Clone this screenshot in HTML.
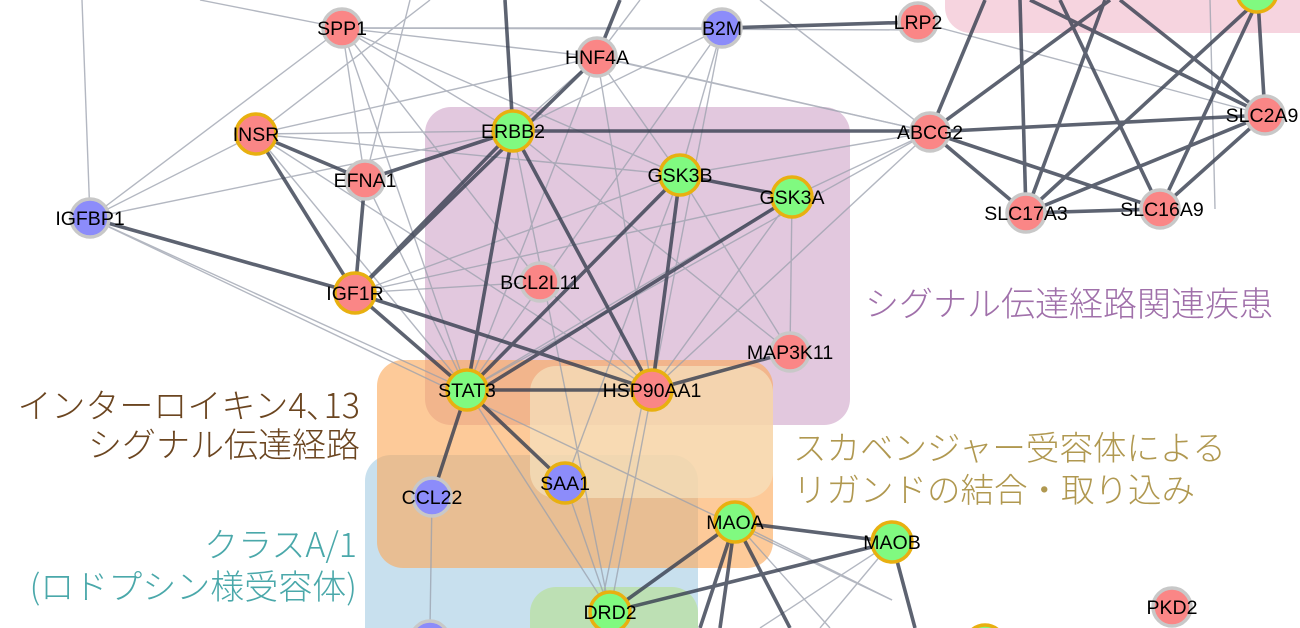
<!DOCTYPE html>
<html><head><meta charset="utf-8"><style>
html,body{margin:0;padding:0;background:#fff;width:1300px;height:628px;overflow:hidden;}
#c{position:relative;width:1300px;height:628px;overflow:hidden;font-family:"Liberation Sans","Noto Sans CJK JP",sans-serif;}
.r{position:absolute;border-radius:26px;}
.lab{position:absolute;font-family:"Noto Sans CJK JP","Liberation Sans",sans-serif;font-weight:300;white-space:nowrap;line-height:40px;}
</style></head><body><div id="c">
<div class="r" style="left:945px;top:-40px;width:400px;height:73px;background:#f6d4df;"></div>
<div class="r" style="left:425px;top:107px;width:425px;height:318px;background:#e2c8de;"></div>
<div class="r" style="left:365px;top:455px;width:333px;height:173px;border-bottom-left-radius:0;border-bottom-right-radius:0;background:#c8e0ee;"></div>
<div class="r" style="left:377px;top:360px;width:396px;height:208px;background:rgba(252,170,90,0.62);"></div>
<div class="r" style="left:530px;top:366px;width:243px;height:132px;background:rgba(245,225,190,0.7);"></div>
<div class="r" style="left:530px;top:587px;width:168px;height:41px;border-bottom-left-radius:0;border-bottom-right-radius:0;background:#bde0b4;"></div>
<svg width="1300" height="628" viewBox="0 0 1300 628" style="position:absolute;left:0;top:0;overflow:hidden">
<g stroke="#9aa0ad" stroke-width="1.4" opacity="0.75">
<line x1="90" y1="218" x2="82" y2="0"/><line x1="90" y1="218" x2="256" y2="134"/><line x1="90" y1="218" x2="342" y2="28"/><line x1="90" y1="218" x2="513" y2="131"/><line x1="90" y1="218" x2="467" y2="390"/>
<line x1="342" y1="28" x2="200" y2="0"/><line x1="342" y1="28" x2="597" y2="57"/><line x1="342" y1="28" x2="680" y2="175"/><line x1="342" y1="28" x2="930" y2="30"/><line x1="342" y1="28" x2="513" y2="131"/><line x1="342" y1="28" x2="467" y2="390"/><line x1="342" y1="28" x2="365" y2="180"/><line x1="342" y1="28" x2="540" y2="282"/><line x1="342" y1="28" x2="722" y2="28"/>
<line x1="256" y1="134" x2="597" y2="57"/><line x1="256" y1="134" x2="513" y2="131"/><line x1="256" y1="134" x2="680" y2="175"/><line x1="256" y1="134" x2="467" y2="390"/><line x1="256" y1="134" x2="652" y2="390"/><line x1="256" y1="134" x2="430" y2="0"/>
<line x1="365" y1="180" x2="410" y2="0"/><line x1="365" y1="180" x2="467" y2="390"/>
<line x1="597" y1="57" x2="680" y2="175"/><line x1="597" y1="57" x2="467" y2="390"/><line x1="597" y1="57" x2="652" y2="390"/><line x1="597" y1="57" x2="513" y2="131"/><line x1="597" y1="57" x2="930" y2="132"/><line x1="597" y1="57" x2="640" y2="0"/>
<line x1="722" y1="28" x2="467" y2="390"/><line x1="722" y1="28" x2="680" y2="175"/><line x1="722" y1="28" x2="652" y2="390"/><line x1="722" y1="28" x2="513" y2="131"/>
<line x1="760" y1="0" x2="930" y2="132"/><line x1="918" y1="22" x2="1265" y2="115"/>
<line x1="930" y1="132" x2="680" y2="175"/><line x1="930" y1="132" x2="792" y2="197"/><line x1="930" y1="132" x2="652" y2="390"/><line x1="930" y1="132" x2="467" y2="390"/><line x1="930" y1="132" x2="600" y2="57"/>
<line x1="792" y1="197" x2="790" y2="352"/><line x1="792" y1="197" x2="467" y2="390"/><line x1="792" y1="197" x2="355" y2="293"/><line x1="792" y1="197" x2="652" y2="390"/>
<line x1="680" y1="175" x2="790" y2="352"/><line x1="680" y1="175" x2="355" y2="293"/><line x1="680" y1="175" x2="565" y2="483"/>
<line x1="513" y1="131" x2="790" y2="352"/><line x1="513" y1="131" x2="610" y2="612"/><line x1="540" y1="282" x2="355" y2="293"/><line x1="540" y1="282" x2="652" y2="390"/>
<line x1="652" y1="390" x2="610" y2="612"/><line x1="645" y1="390" x2="600" y2="612"/><line x1="467" y1="390" x2="610" y2="612"/><line x1="565" y1="483" x2="610" y2="612"/>
<line x1="90" y1="218" x2="892" y2="600"/><line x1="735" y1="522" x2="892" y2="600"/>
<line x1="432" y1="497" x2="430" y2="628"/><line x1="1210" y1="0" x2="1215" y2="209"/>
<line x1="892" y1="542" x2="820" y2="628"/><line x1="892" y1="542" x2="760" y2="628"/><line x1="735" y1="522" x2="830" y2="628"/>
</g>
<g stroke="#3a4152" stroke-width="3.6" opacity="0.82">
<line x1="256" y1="134" x2="355" y2="293"/><line x1="90" y1="218" x2="355" y2="293"/><line x1="355" y1="293" x2="513" y2="131"/><line x1="355" y1="293" x2="467" y2="390"/><line x1="355" y1="293" x2="652" y2="390"/>
<line x1="365" y1="180" x2="355" y2="293"/><line x1="365" y1="180" x2="513" y2="131"/><line x1="256" y1="134" x2="365" y2="180"/>
<line x1="513" y1="131" x2="467" y2="390"/><line x1="513" y1="131" x2="652" y2="390"/><line x1="505" y1="0" x2="513" y2="131"/><line x1="513" y1="131" x2="930" y2="131"/>
<line x1="680" y1="175" x2="792" y2="197"/><line x1="680" y1="175" x2="652" y2="390"/><line x1="680" y1="175" x2="467" y2="390"/><line x1="792" y1="197" x2="480" y2="390"/>
<line x1="597" y1="57" x2="355" y2="293"/><line x1="722" y1="28" x2="918" y2="22"/><line x1="620" y1="0" x2="597" y2="57"/>
<line x1="467" y1="390" x2="652" y2="390"/><line x1="467" y1="390" x2="565" y2="483"/><line x1="467" y1="390" x2="432" y2="497"/><line x1="652" y1="390" x2="790" y2="352"/>
<line x1="735" y1="522" x2="892" y2="542"/><line x1="735" y1="522" x2="610" y2="612"/><line x1="735" y1="522" x2="700" y2="628"/><line x1="735" y1="522" x2="720" y2="628"/><line x1="735" y1="522" x2="790" y2="628"/><line x1="610" y1="612" x2="892" y2="542"/><line x1="892" y1="542" x2="915" y2="628"/>
<line x1="930" y1="132" x2="1265" y2="115"/><line x1="930" y1="132" x2="1026" y2="213"/><line x1="930" y1="132" x2="1160" y2="209"/><line x1="930" y1="132" x2="985" y2="0"/><line x1="930" y1="132" x2="1110" y2="0"/>
<line x1="1026" y1="213" x2="1160" y2="209"/><line x1="1026" y1="213" x2="1265" y2="115"/><line x1="1026" y1="213" x2="1258" y2="0"/><line x1="1026" y1="213" x2="1020" y2="0"/><line x1="1026" y1="213" x2="1105" y2="0"/>
<line x1="1160" y1="209" x2="1265" y2="115"/><line x1="1160" y1="209" x2="1060" y2="0"/><line x1="1160" y1="209" x2="1258" y2="0"/>
<line x1="1265" y1="115" x2="1258" y2="0"/><line x1="1265" y1="115" x2="1120" y2="0"/><line x1="1265" y1="115" x2="1030" y2="0"/>
</g>
<g font-family="Liberation Sans, sans-serif" font-size="19.5" text-anchor="middle" stroke-width="3.5">
<g stroke="#c8c8c8">
<circle cx="342" cy="28" r="19" fill="#fa8686"/><circle cx="597" cy="57" r="19" fill="#fa8686"/><circle cx="722" cy="28" r="19" fill="#8c8cfa"/><circle cx="918" cy="22" r="19" fill="#fa8686"/>
<circle cx="365" cy="180" r="19" fill="#fa8686"/><circle cx="930" cy="132" r="19" fill="#fa8686"/><circle cx="1265" cy="115" r="19" fill="#fa8686"/><circle cx="1026" cy="213" r="19" fill="#fa8686"/><circle cx="1160" cy="209" r="19" fill="#fa8686"/>
<circle cx="90" cy="218" r="19" fill="#8c8cfa"/><circle cx="540" cy="282" r="19" fill="#fa8686"/><circle cx="790" cy="352" r="19" fill="#fa8686"/><circle cx="432" cy="497" r="19" fill="#8c8cfa"/><circle cx="1172" cy="607" r="19" fill="#fa8686"/><circle cx="430" cy="640" r="19" fill="#8c8cfa"/>
</g>
<g stroke="#e8b010">
<circle cx="256" cy="134" r="20" fill="#fa8686"/><circle cx="513" cy="131" r="20" fill="#80fa80"/><circle cx="680" cy="175" r="20" fill="#80fa80"/><circle cx="792" cy="197" r="20" fill="#80fa80"/>
<circle cx="355" cy="293" r="20" fill="#fa8686"/><circle cx="467" cy="390" r="20" fill="#80fa80"/><circle cx="652" cy="390" r="20" fill="#fa8686"/><circle cx="565" cy="483" r="20" fill="#8c8cfa"/>
<circle cx="735" cy="522" r="20" fill="#80fa80"/><circle cx="892" cy="542" r="20" fill="#80fa80"/><circle cx="610" cy="612" r="20" fill="#80fa80"/><circle cx="985" cy="645" r="20" fill="#80fa80"/><circle cx="1257" cy="-8" r="20" fill="#80fa80"/>
</g>
<g fill="#000">
<text x="342" y="35">SPP1</text><text x="597" y="64">HNF4A</text><text x="722" y="35">B2M</text><text x="918" y="29">LRP2</text>
<text x="256" y="141">INSR</text><text x="513" y="138">ERBB2</text><text x="365" y="187">EFNA1</text><text x="680" y="182">GSK3B</text><text x="792" y="204">GSK3A</text>
<text x="930" y="139">ABCG2</text><text x="1262" y="122">SLC2A9</text><text x="1026" y="220">SLC17A3</text><text x="1162" y="216">SLC16A9</text>
<text x="90" y="225">IGFBP1</text><text x="355" y="300">IGF1R</text><text x="540" y="289">BCL2L11</text><text x="790" y="359">MAP3K11</text>
<text x="467" y="397">STAT3</text><text x="652" y="397">HSP90AA1</text><text x="565" y="490">SAA1</text><text x="432" y="504">CCL22</text>
<text x="735" y="529">MAOA</text><text x="892" y="549">MAOB</text><text x="610" y="619">DRD2</text><text x="1172" y="614">PKD2</text>
</g></g>
</svg>
<div class="lab" style="left:865px;top:282px;font-size:34px;color:#a070aa;">シグナル伝達経路関連疾患</div>
<div class="lab" style="right:940px;top:384px;font-size:34px;line-height:39px;color:#6b4520;text-align:right;">インターロイキン4､13<br>シグナル伝達経路</div>
<div class="lab" style="left:793px;top:425px;font-size:33.5px;line-height:42px;color:#b09850;">スカベンジャー受容体による<br>リガンドの結合・取り込み</div>
<div class="lab" style="right:943px;top:522px;font-size:34px;line-height:42px;color:#4aa8aa;text-align:right;">クラスA/1<br>(ロドプシン様受容体)</div>
</div></body></html>
